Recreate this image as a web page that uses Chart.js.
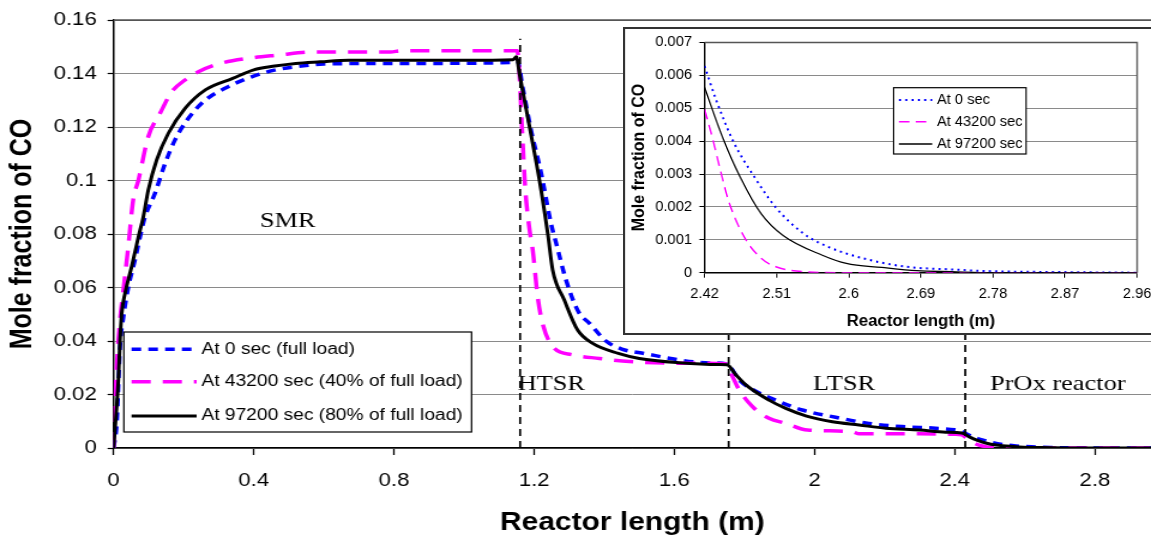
<!DOCTYPE html>
<html>
<head>
<meta charset="utf-8">
<script src="https://cdn.jsdelivr.net/npm/chart.js@4/dist/chart.umd.min.js"></script>
<style>
  html, body { margin: 0; padding: 0; background: #fff; overflow: hidden; width: 1151px; height: 541px; }
  #stage { position: relative; width: 1151px; height: 541px; overflow: hidden; background: #fff; }
  /* the whole figure is drawn with a wide aspect: fonts and marks are stretched horizontally */
  #mainWrap { position: absolute; left: 0; top: 0; width: 960px; height: 541px; transform-origin: 0 0; transform: scaleX(1.19896); }
  #insetWrap { position: absolute; left: 622.8px; top: 27px; width: 514px; height: 308px; transform-origin: 0 0; transform: scaleX(1.05); }
  canvas { display: block; }
</style>
</head>
<body>
<div id="stage">
  <div id="mainWrap"><canvas id="main" width="960" height="541"></canvas></div>
  <div id="insetWrap"><canvas id="inset" width="514" height="308"></canvas></div>
</div>
<script>
// CO mole fraction along the fuel-processor train, [reactor length (m), mole fraction]

// At 0 sec (full load)
const fullLoad0s = [
  [0, 0], [0.009, 0.0092], [0.0185, 0.0379], [0.028, 0.049], [0.042, 0.060], [0.061, 0.0703],
  [0.080, 0.0815], [0.090, 0.0865], [0.118, 0.0952], [0.147, 0.1064], [0.175, 0.1151],
  [0.213, 0.1232], [0.261, 0.130], [0.327, 0.1351], [0.394, 0.1388], [0.47, 0.1416],
  [0.536, 0.1428], [0.60, 0.1436], [0.85, 0.1438], [1.144, 0.1442], [1.152, 0.1450],
  [1.167, 0.135], [1.191, 0.1189], [1.22, 0.1027], [1.248, 0.084], [1.263, 0.0765],
  [1.291, 0.0628], [1.326, 0.051], [1.358, 0.0466], [1.405, 0.0400], [1.45, 0.0370],
  [1.52, 0.0352], [1.61, 0.0330], [1.70, 0.0318], [1.75, 0.0314], [1.785, 0.0254],
  [1.823, 0.0219], [1.889, 0.0179], [1.965, 0.0142], [2.06, 0.0115], [2.155, 0.0092],
  [2.25, 0.0080], [2.345, 0.0074], [2.40, 0.0068], [2.42, 0.00628], [2.434, 0.00528],
  [2.456, 0.00398], [2.483, 0.00288], [2.509, 0.00198], [2.544, 0.00118], [2.575, 0.00078],
  [2.619, 0.00043], [2.672, 0.00018], [2.728, 0.0001], [2.772, 0.00005], [2.86, 0.00002],
  [2.96, 0]
];

// At 43200 sec (40% of full load)
const load40At43200s = [
  [0, 0], [0.004, 0.016], [0.009, 0.0304], [0.0185, 0.0479], [0.028, 0.059], [0.042, 0.0753],
  [0.056, 0.0927], [0.071, 0.1002], [0.099, 0.1164], [0.132, 0.125], [0.166, 0.1332],
  [0.204, 0.1376], [0.242, 0.1407], [0.299, 0.1436], [0.384, 0.1457], [0.469, 0.1469],
  [0.57, 0.1481], [0.79, 0.1481], [0.82, 0.1485], [1.152, 0.1485], [1.158, 0.140],
  [1.166, 0.118], [1.175, 0.0964], [1.187, 0.0815], [1.196, 0.074], [1.21, 0.0566],
  [1.224, 0.0466], [1.253, 0.0379], [1.31, 0.0348], [1.386, 0.0335], [1.472, 0.0323],
  [1.614, 0.0317], [1.747, 0.0315], [1.766, 0.0267], [1.785, 0.0217], [1.823, 0.0155],
  [1.87, 0.0111], [1.918, 0.0092], [1.98, 0.0067], [2.108, 0.0061], [2.127, 0.0053],
  [2.30, 0.0053], [2.40, 0.0051], [2.42, 0.00496], [2.43, 0.00408], [2.439, 0.00318],
  [2.45, 0.00218], [2.4696, 0.00108], [2.491, 0.00043], [2.509, 0.00018], [2.544, 0.00003],
  [2.60, 0], [2.96, 0]
];

// At 97200 sec (80% of full load)
const load80At97200s = [
  [0, 0], [0.009, 0.0155], [0.0137, 0.0254], [0.0185, 0.0404], [0.023, 0.050], [0.033, 0.058],
  [0.052, 0.068], [0.071, 0.079], [0.085, 0.0865], [0.099, 0.0964], [0.123, 0.1077],
  [0.156, 0.1176], [0.204, 0.127], [0.263, 0.134], [0.34, 0.1382], [0.40, 0.1414],
  [0.46, 0.1428], [0.52, 0.1438], [0.59, 0.1444], [0.67, 0.1450], [1.0, 0.1450],
  [1.14, 0.1452], [1.149, 0.1463], [1.158, 0.140], [1.187, 0.120], [1.215, 0.1002],
  [1.239, 0.080], [1.253, 0.0665], [1.286, 0.0553], [1.324, 0.0441], [1.367, 0.0391],
  [1.44, 0.0354], [1.50, 0.0335], [1.614, 0.0319], [1.728, 0.0312], [1.75, 0.0311],
  [1.776, 0.0273], [1.804, 0.0236], [1.87, 0.0179], [1.918, 0.0148], [1.975, 0.012],
  [2.051, 0.0098], [2.127, 0.0086], [2.203, 0.0074], [2.30, 0.0067], [2.374, 0.0059],
  [2.42, 0.00563], [2.443, 0.00408], [2.465, 0.00288], [2.491, 0.00178], [2.518, 0.00113],
  [2.567, 0.00053], [2.597, 0.00028], [2.641, 0.00016], [2.685, 0.00006], [2.728, 0.00003],
  [2.78, 0], [2.96, 0]
];

const seriesLabels = ['At 0 sec (full load)', 'At 43200 sec (40% of full load)', 'At 97200 sec (80% of full load)'];
const insetLabels = ['At 0 sec', 'At 43200 sec', 'At 97200 sec'];

// reactor outlets (m): SMR | HTSR | LTSR | PrOx, and the mole-fraction span of the divider lines
const reactorBounds = [1.16, 1.755, 2.43];
const boundSpan = [0, 0.153];
const regionNames = ['SMR', 'HTSR', 'LTSR', 'PrOx reactor'];

const mainXTicks = [0, 0.4, 0.8, 1.2, 1.6, 2.0, 2.4, 2.8];
const mainYTicks = [0, 0.02, 0.04, 0.06, 0.08, 0.10, 0.12, 0.14, 0.16];
const insetXTicks = [2.42, 2.51, 2.6, 2.69, 2.78, 2.87, 2.96];
const insetYTicks = [0, 0.001, 0.002, 0.003, 0.004, 0.005, 0.006, 0.007];

const SANS = '"Liberation Sans", Arial, Helvetica, sans-serif';
const SERIF = '"Liberation Serif", "Times New Roman", serif';

const seriesData = [fullLoad0s, load40At43200s, load80At97200s];
const toXY = pairs => pairs.map(([x, y]) => ({ x, y }));

const mainStyles = [
  { color: '#0000ff', width: 3.5, dash: [8, 6] },
  { color: '#ff00ff', width: 3.5, dash: [16, 10] },
  { color: '#000000', width: 3, dash: [] }
];
const insetStyles = [
  { color: '#0000ff', width: 2, dash: [2, 4] },
  { color: '#ff00ff', width: 1.5, dash: [10, 6] },
  { color: '#000000', width: 1.3, dash: [] }
];

// legend drawn inside a white box at a fixed spot of the canvas
const boxLegend = {
  id: 'boxLegend',
  afterDraw(chart, args, o) {
    const ctx = chart.ctx;
    ctx.save();
    ctx.fillStyle = '#fff';
    ctx.fillRect(o.x, o.y, o.w, o.h);
    ctx.strokeStyle = '#000';
    ctx.lineWidth = o.borderWidth;
    ctx.strokeRect(o.x, o.y, o.w, o.h);
    chart.data.datasets.filter(d => d.isSeries).forEach((ds, i) => {
      ctx.beginPath();
      ctx.setLineDash(ds.borderDash || []);
      ctx.lineWidth = ds.borderWidth;
      ctx.strokeStyle = ds.borderColor;
      ctx.moveTo(o.sampleX0, o.rowY[i]);
      ctx.lineTo(o.sampleX1, o.rowY[i]);
      ctx.stroke();
      ctx.setLineDash([]);
      ctx.fillStyle = '#000';
      ctx.font = o.font;
      ctx.textAlign = 'left';
      ctx.textBaseline = 'middle';
      ctx.fillText(ds.label, o.textX, o.rowY[i]);
    });
    ctx.restore();
  }
};

// reactor names placed in data coordinates
const regionText = {
  id: 'regionText',
  afterDatasetsDraw(chart, args, o) {
    const { ctx, scales } = chart;
    ctx.save();
    ctx.fillStyle = '#000';
    ctx.font = o.font;
    ctx.textAlign = 'center';
    ctx.textBaseline = 'middle';
    o.names.forEach((name, i) => {
      const [x, y] = o.anchors[i];
      ctx.fillText(name, scales.x.getPixelForValue(x), scales.y.getPixelForValue(y));
    });
    ctx.restore();
  }
};

// plot-area frame (top edge, and right edge where visible) plus optional outer box
const plotFrame = {
  id: 'plotFrame',
  beforeDraw(chart, args, o) {
    if (o.background) {
      const ctx = chart.ctx;
      ctx.save();
      ctx.fillStyle = o.background;
      ctx.fillRect(0, 0, chart.width, chart.height);
      ctx.restore();
    }
  },
  beforeDatasetsDraw(chart, args, o) {
    const { ctx, chartArea: a } = chart;
    ctx.save();
    ctx.strokeStyle = o.color;
    ctx.lineWidth = o.width;
    ctx.beginPath();
    ctx.moveTo(a.left, a.top);
    ctx.lineTo(a.right, a.top);
    if (o.right) ctx.lineTo(a.right, a.bottom);
    ctx.stroke();
    ctx.restore();
  },
  afterDraw(chart, args, o) {
    if (!o.outer) return;
    const ctx = chart.ctx;
    ctx.save();
    ctx.strokeStyle = o.outer.color;
    ctx.lineWidth = o.outer.width;
    const h = o.outer.width / 2;
    ctx.strokeRect(h, h, chart.width + 10, chart.height - o.outer.width);
    ctx.restore();
  }
};

const fmt = d => v => String(Number(v.toFixed(d)));

// ---------- main chart ----------
const mainDatasets = seriesData.map((d, i) => ({
  label: seriesLabels[i],
  data: toXY(d),
  borderColor: mainStyles[i].color,
  borderWidth: mainStyles[i].width,
  borderDash: mainStyles[i].dash,
  pointRadius: 0,
  fill: false,
  tension: 0,
  cubicInterpolationMode: 'monotone',
  order: 3 - i,
  isSeries: true
}));
reactorBounds.forEach(b => mainDatasets.push({
  label: '',
  data: boundSpan.map(y => ({ x: b, y })),
  borderColor: '#000',
  borderWidth: 1.7,
  borderDash: [7, 5],
  pointRadius: 0,
  fill: false,
  order: 0
}));

new Chart(document.getElementById('main'), {
  type: 'line',
  data: { datasets: mainDatasets },
  plugins: [plotFrame, regionText, boxLegend],
  options: {
    responsive: false,
    animation: false,
    devicePixelRatio: 1,
    layout: { padding: { top: 20, right: 0, bottom: 0, left: 0 } },
    plugins: {
      legend: { display: false },
      tooltip: { enabled: false },
      plotFrame: { color: '#555', width: 1.6, right: false },
      regionText: {
        font: '22px ' + SERIF,
        names: regionNames,
        anchors: [[0.497, 0.0849], [1.249, 0.0239], [2.084, 0.0239], [2.694, 0.0239]]
      },
      boxLegend: {
        x: 103.3, y: 332, w: 290, h: 100, borderWidth: 1.2,
        sampleX0: 109.7, sampleX1: 164, textX: 168,
        rowY: [349.3, 381.7, 416],
        font: '16px ' + SANS
      }
    },
    scales: {
      x: {
        type: 'linear',
        min: 0, max: 2.96,
        afterBuildTicks: s => { s.ticks = mainXTicks.map(v => ({ value: v })); },
        afterFit: s => { s.height = 93; },
        grid: { drawOnChartArea: false, drawTicks: true, tickLength: 7, tickColor: '#000', tickWidth: 1.3 },
        border: { color: '#000', width: 1.5 },
        ticks: { autoSkip: false, maxRotation: 0, padding: 15, color: '#000', font: { family: SANS, size: 18.5 }, callback: fmt(1) },
        title: { display: true, text: 'Reactor length (m)', color: '#000', font: { family: SANS, size: 25, weight: 'bold' }, padding: { top: 0, bottom: 3 } }
      },
      y: {
        type: 'linear',
        min: 0, max: 0.16,
        afterBuildTicks: s => { s.ticks = mainYTicks.map(v => ({ value: v })); },
        afterFit: s => { s.width = 94.7; },
        grid: { color: '#8a8a8a', lineWidth: 1, drawTicks: true, tickLength: 5, tickColor: '#000', tickWidth: 1.2 },
        border: { color: '#000', width: 1.5 },
        ticks: { autoSkip: false, padding: 9, color: '#000', font: { family: SANS, size: 18.5 }, callback: fmt(2) },
        title: { display: true, text: 'Mole fraction of CO', color: '#000', font: { family: SANS, size: 25, weight: 'bold' }, padding: { top: 4, bottom: 0 } }
      }
    }
  }
});

// ---------- inset: PrOx reactor close-up ----------
const insetDatasets = seriesData.map((d, i) => ({
  label: insetLabels[i],
  data: toXY(d.filter(([x]) => x >= insetXTicks[0])),
  borderColor: insetStyles[i].color,
  borderWidth: insetStyles[i].width,
  borderDash: insetStyles[i].dash,
  pointRadius: 0,
  fill: false,
  tension: 0,
  cubicInterpolationMode: 'monotone',
  order: 3 - i,
  isSeries: true
}));

new Chart(document.getElementById('inset'), {
  type: 'line',
  data: { datasets: insetDatasets },
  plugins: [plotFrame, boxLegend],
  options: {
    responsive: false,
    animation: false,
    devicePixelRatio: 1,
    layout: { padding: { top: 12.3, right: 24.4, bottom: 0, left: 0 } },
    plugins: {
      legend: { display: false },
      tooltip: { enabled: false },
      plotFrame: { color: '#555', width: 1.5, right: true, background: '#fff', outer: { color: '#333', width: 2 } },
      boxLegend: {
        x: 257.7, y: 60.7, w: 126.2, h: 66.3, borderWidth: 1.2,
        sampleX0: 262.8, sampleX1: 294.5, textX: 298.9,
        rowY: [73, 94.7, 117],
        font: '14px ' + SANS
      }
    },
    scales: {
      x: {
        type: 'linear',
        min: 2.42, max: 2.96,
        afterBuildTicks: s => { s.ticks = insetXTicks.map(v => ({ value: v })); },
        afterFit: s => { s.height = 62.3; },
        grid: { drawOnChartArea: false, drawTicks: true, tickLength: 5, tickColor: '#000', tickWidth: 1 },
        border: { color: '#000', width: 1.5 },
        ticks: { autoSkip: false, maxRotation: 0, padding: 8, color: '#000', font: { family: SANS, size: 14 }, callback: fmt(2) },
        title: { display: true, text: 'Reactor length (m)', color: '#000', font: { family: SANS, size: 16, weight: 'bold' }, padding: { top: 0, bottom: 4 } }
      },
      y: {
        type: 'linear',
        min: 0, max: 0.007,
        afterBuildTicks: s => { s.ticks = insetYTicks.map(v => ({ value: v })); },
        afterFit: s => { s.width = 77.7; },
        grid: { color: '#8a8a8a', lineWidth: 1, drawTicks: true, tickLength: 5, tickColor: '#000', tickWidth: 1 },
        border: { color: '#000', width: 1.5 },
        ticks: { autoSkip: false, padding: 7, color: '#000', font: { family: SANS, size: 14 }, callback: fmt(3) },
        title: { display: true, text: 'Mole fraction of CO', color: '#000', font: { family: SANS, size: 16, weight: 'bold' }, padding: { top: 6, bottom: 0 } }
      }
    }
  }
});
</script>
</body>
</html>
